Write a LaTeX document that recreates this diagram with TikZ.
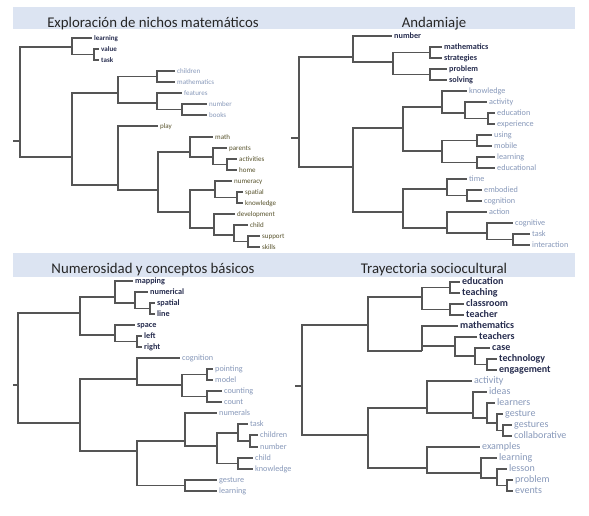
\documentclass[tikz,border=0pt]{standalone}
\usepackage{fontspec}
\setmainfont{Carlito}
\definecolor{navy}{HTML}{262C4E}
\definecolor{steel}{HTML}{8798B9}
\definecolor{olivetxt}{HTML}{56512A}
\definecolor{linegray}{HTML}{555555}
\definecolor{bandblue}{HTML}{DCE4F2}
\def\leaffont{\fontsize{8}{9}\selectfont}

\begin{document}
\begin{tikzpicture}[x=1pt,y=-1pt,
  tree/.style={draw=linegray,line width=1.2pt,to path={|- (\tikztotarget)}},
  leaf/.style={anchor=west,inner sep=2pt,text height=1.5ex,text depth=.3ex},
  dark leaf/.style={leaf,text=navy,font=\leaffont\bfseries},
  pale leaf/.style={leaf,text=steel,font=\leaffont},
  olive leaf/.style={leaf,text=olivetxt,font=\leaffont},
  title/.style={anchor=base,text=black!85,font=\fontsize{14.8}{16}\selectfont}]

  \useasboundingbox (0,0) rectangle (589,515);
  \fill[bandblue] (13,7) rectangle (575,29);
  \fill[bandblue] (13,253) rectangle (575,277);

  \node[title] (t1) at (153,27) {Exploración de nichos matemáticos};
  \node[title] (t2) at (434,27) {Andamiaje};
  \node[title] (t3) at (153,273) {Numerosidad y conceptos básicos};
  \node[title] (t4) at (434,273) {Trayectoria sociocultural};

  % Exploración de nichos matemáticos
  \begin{scope}
  \def\leaffont{\fontsize{7}{8}\selectfont}
  \coordinate (s1) at (13,141);
  \coordinate (r1) at (20,141);
  \coordinate (a1) at (72,47);
  \coordinate (vt1) at (94,54.5);
  \coordinate (b1) at (72,157);
  \coordinate (c1) at (118,93);
  \coordinate (cm1) at (157,76.5);
  \coordinate (fnb1) at (157,103);
  \coordinate (nb1) at (182,109.5);
  \coordinate (d1) at (118,185);
  \coordinate (e1) at (158,190);
  \coordinate (f1) at (190,152);
  \coordinate (pah1) at (213,157);
  \coordinate (ah1) at (227,164.5);
  \coordinate (g1) at (190,212);
  \coordinate (nsk1) at (215,190);
  \coordinate (sk1) at (237,197.5);
  \coordinate (dcss1) at (214,228);
  \coordinate (css1) at (234,235);
  \coordinate (ss1) at (248,241.5);

  \node[dark leaf]  (learning1) at (92,38) {learning};
  \node[dark leaf]  (value1) at (99,49) {value};
  \node[dark leaf]  (task1) at (99,60) {task};
  \node[pale leaf]  (children1) at (175,71) {children};
  \node[pale leaf]  (mathematics1) at (175,82) {mathematics};
  \node[pale leaf]  (features1) at (182,93) {features};
  \node[pale leaf]  (number1) at (207,104) {number};
  \node[pale leaf]  (books1) at (207,115) {books};
  \node[olive leaf] (play1) at (158,126) {play};
  \node[olive leaf] (math1) at (213,137) {math};
  \node[olive leaf] (parents1) at (227,148) {parents};
  \node[olive leaf] (activities1) at (237,159) {activities};
  \node[olive leaf] (home1) at (237,170) {home};
  \node[olive leaf] (numeracy1) at (232,181) {numeracy};
  \node[olive leaf] (spatial1) at (243,192) {spatial};
  \node[olive leaf] (knowledge1) at (243,203) {knowledge};
  \node[olive leaf] (development1) at (235,214) {development};
  \node[olive leaf] (child1) at (248,225) {child};
  \node[olive leaf] (support1) at (260,236) {support};
  \node[olive leaf] (skills1) at (260,247) {skills};

  \path[tree]
    (s1) edge (r1)
    (r1) edge (a1)  (r1) edge (b1)
    (a1) edge (learning1)  (a1) edge (vt1)
    (vt1) edge (value1)  (vt1) edge (task1)
    (b1) edge (c1)  (b1) edge (d1)
    (c1) edge (cm1)  (c1) edge (fnb1)
    (cm1) edge (children1)  (cm1) edge (mathematics1)
    (fnb1) edge (features1)  (fnb1) edge (nb1)
    (nb1) edge (number1)  (nb1) edge (books1)
    (d1) edge (play1)  (d1) edge (e1)
    (e1) edge (f1)  (e1) edge (g1)
    (f1) edge (math1)  (f1) edge (pah1)
    (pah1) edge (parents1)  (pah1) edge (ah1)
    (ah1) edge (activities1)  (ah1) edge (home1)
    (g1) edge (nsk1)  (g1) edge (dcss1)
    (nsk1) edge (numeracy1)  (nsk1) edge (sk1)
    (sk1) edge (spatial1)  (sk1) edge (knowledge1)
    (dcss1) edge (development1)  (dcss1) edge (css1)
    (css1) edge (child1)  (css1) edge (ss1)
    (ss1) edge (support1)  (ss1) edge (skills1);
  \end{scope}

  % Andamiaje
  \begin{scope}
  \def\leaffont{\fontsize{8.2}{9}\selectfont}
  \coordinate (s2) at (291,138);
  \coordinate (r2) at (299,138);
  \coordinate (a2) at (353,57);
  \coordinate (msps2) at (393,62);
  \coordinate (ms2) at (430,52.5);
  \coordinate (ps2) at (430,74.5);
  \coordinate (b2) at (353,167);
  \coordinate (c2) at (403,128);
  \coordinate (kaee2) at (442,107);
  \coordinate (aee2) at (465,113);
  \coordinate (ee2) at (488,118.5);
  \coordinate (umle2) at (442,151);
  \coordinate (um2) at (477,140.5);
  \coordinate (le2) at (477,162.5);
  \coordinate (d2) at (403,212);
  \coordinate (tec2) at (447,189);
  \coordinate (ec2) at (467,195.5);
  \coordinate (acti2) at (447,228);
  \coordinate (cti2) at (487,233);
  \coordinate (ti2) at (513,239.5);

  \node[dark leaf] (number2) at (392,36) {number};
  \node[dark leaf] (mathematics2) at (442,47) {mathematics};
  \node[dark leaf] (strategies2) at (442,58) {strategies};
  \node[dark leaf] (problem2) at (447,69) {problem};
  \node[dark leaf] (solving2) at (447,80) {solving};
  \node[pale leaf] (knowledge2) at (467,91) {knowledge};
  \node[pale leaf] (activity2) at (487,102) {activity};
  \node[pale leaf] (education2) at (495,113) {education};
  \node[pale leaf] (experience2) at (495,124) {experience};
  \node[pale leaf] (using2) at (492,135) {using};
  \node[pale leaf] (mobile2) at (492,146) {mobile};
  \node[pale leaf] (learning2) at (495,157) {learning};
  \node[pale leaf] (educational2) at (495,168) {educational};
  \node[pale leaf] (time2) at (467,179) {time};
  \node[pale leaf] (embodied2) at (482,190) {embodied};
  \node[pale leaf] (cognition2) at (482,201) {cognition};
  \node[pale leaf] (action2) at (487,212) {action};
  \node[pale leaf] (cognitive2) at (513,223) {cognitive};
  \node[pale leaf] (task2) at (530,234) {task};
  \node[pale leaf] (interaction2) at (530,245) {interaction};

  \path[tree]
    (s2) edge (r2)
    (r2) edge (a2)  (r2) edge (b2)
    (a2) edge (number2)  (a2) edge (msps2)
    (msps2) edge (ms2)  (msps2) edge (ps2)
    (ms2) edge (mathematics2)  (ms2) edge (strategies2)
    (ps2) edge (problem2)  (ps2) edge (solving2)
    (b2) edge (c2)  (b2) edge (d2)
    (c2) edge (kaee2)  (c2) edge (umle2)
    (kaee2) edge (knowledge2)  (kaee2) edge (aee2)
    (aee2) edge (activity2)  (aee2) edge (ee2)
    (ee2) edge (education2)  (ee2) edge (experience2)
    (umle2) edge (um2)  (umle2) edge (le2)
    (um2) edge (using2)  (um2) edge (mobile2)
    (le2) edge (learning2)  (le2) edge (educational2)
    (d2) edge (tec2)  (d2) edge (acti2)
    (tec2) edge (time2)  (tec2) edge (ec2)
    (ec2) edge (embodied2)  (ec2) edge (cognition2)
    (acti2) edge (action2)  (acti2) edge (cti2)
    (cti2) edge (cognitive2)  (cti2) edge (ti2)
    (ti2) edge (task2)  (ti2) edge (interaction2);
  \end{scope}

  % Numerosidad y conceptos básicos
  \begin{scope}
  \def\leaffont{\fontsize{8.2}{9}\selectfont}
  \coordinate (s3) at (13,385);
  \coordinate (r3) at (18,385);
  \coordinate (a3) at (80,313);
  \coordinate (mnsl3) at (115,297);
  \coordinate (nsl3) at (135,303);
  \coordinate (sl3) at (150,308.5);
  \coordinate (slr3) at (115,335);
  \coordinate (lr3) at (137,341.5);
  \coordinate (b3) at (80,423);
  \coordinate (c3) at (137,379);
  \coordinate (pmcc3) at (182,385);
  \coordinate (pm3) at (207,374.5);
  \coordinate (cc3) at (207,396.5);
  \coordinate (d3) at (137,451);
  \coordinate (e3) at (185,441);
  \coordinate (f3) at (217,446);
  \coordinate (tcn3) at (238,433);
  \coordinate (cn3) at (250,441);
  \coordinate (ck3) at (238,463.5);
  \coordinate (gl3) at (185,485.5);

  \node[dark leaf] (mapping3) at (133,281) {mapping};
  \node[dark leaf] (numerical3) at (148,292) {numerical};
  \node[dark leaf] (spatial3) at (155,303) {spatial};
  \node[dark leaf] (line3) at (155,314) {line};
  \node[dark leaf] (space3) at (135,325) {space};
  \node[dark leaf] (left3) at (142,336) {left};
  \node[dark leaf] (right3) at (142,347) {right};
  \node[pale leaf] (cognition3) at (180,358) {cognition};
  \node[pale leaf] (pointing3) at (213,369) {pointing};
  \node[pale leaf] (model3) at (213,380) {model};
  \node[pale leaf] (counting3) at (222,391) {counting};
  \node[pale leaf] (count3) at (222,402) {count};
  \node[pale leaf] (numerals3) at (217,413) {numerals};
  \node[pale leaf] (task3) at (248,424) {task};
  \node[pale leaf] (children3) at (258,435) {children};
  \node[pale leaf] (number3) at (258,447) {number};
  \node[pale leaf] (child3) at (253,458) {child};
  \node[pale leaf] (knowledge3) at (253,469) {knowledge};
  \node[pale leaf] (gesture3) at (217,480) {gesture};
  \node[pale leaf] (learning3) at (217,491) {learning};

  \path[tree]
    (s3) edge (r3)
    (r3) edge (a3)  (r3) edge (b3)
    (a3) edge (mnsl3)  (a3) edge (slr3)
    (mnsl3) edge (mapping3)  (mnsl3) edge (nsl3)
    (nsl3) edge (numerical3)  (nsl3) edge (sl3)
    (sl3) edge (spatial3)  (sl3) edge (line3)
    (slr3) edge (space3)  (slr3) edge (lr3)
    (lr3) edge (left3)  (lr3) edge (right3)
    (b3) edge (c3)  (b3) edge (d3)
    (c3) edge (cognition3)  (c3) edge (pmcc3)
    (pmcc3) edge (pm3)  (pmcc3) edge (cc3)
    (pm3) edge (pointing3)  (pm3) edge (model3)
    (cc3) edge (counting3)  (cc3) edge (count3)
    (d3) edge (e3)  (d3) edge (gl3)
    (e3) edge (numerals3)  (e3) edge (f3)
    (f3) edge (tcn3)  (f3) edge (ck3)
    (tcn3) edge (task3)  (tcn3) edge (cn3)
    (cn3) edge (children3)  (cn3) edge (number3)
    (ck3) edge (child3)  (ck3) edge (knowledge3)
    (gl3) edge (gesture3)  (gl3) edge (learning3);
  \end{scope}

  % Trayectoria sociocultural
  \begin{scope}
  \def\leaffont{\fontsize{10}{11}\selectfont}
  \coordinate (s4) at (295,386);
  \coordinate (r4) at (302,386);
  \coordinate (a4) at (368,325);
  \coordinate (etct4) at (422,297);
  \coordinate (et4) at (450,287.5);
  \coordinate (ct4) at (450,309.5);
  \coordinate (mtcte4) at (422,351);
  \coordinate (tcte4) at (455,346);
  \coordinate (cte4) at (475,356);
  \coordinate (te4) at (487,364.5);
  \coordinate (b4) at (368,435);
  \coordinate (c4) at (427,408);
  \coordinate (il4) at (473,413);
  \coordinate (lg4) at (487,418);
  \coordinate (gg4) at (497,423);
  \coordinate (gc4) at (503,430.5);
  \coordinate (d4) at (427,468);
  \coordinate (llpe4) at (481,473);
  \coordinate (lpe4) at (497,478);
  \coordinate (pe4) at (507,485.5);

  \node[dark leaf] (education4) at (460,282) {education};
  \node[dark leaf] (teaching4) at (460,293) {teaching};
  \node[dark leaf] (classroom4) at (464,304) {classroom};
  \node[dark leaf] (teacher4) at (464,315) {teacher};
  \node[dark leaf] (mathematics4) at (458,326) {mathematics};
  \node[dark leaf] (teachers4) at (477,337) {teachers};
  \node[dark leaf] (case4) at (490,348) {case};
  \node[dark leaf] (technology4) at (497,359) {technology};
  \node[dark leaf] (engagement4) at (497,370) {engagement};
  \node[pale leaf] (activity4) at (472,381) {activity};
  \node[pale leaf] (ideas4) at (487,392) {ideas};
  \node[pale leaf] (learners4) at (495,403) {learners};
  \node[pale leaf] (gesture4) at (503,414) {gesture};
  \node[pale leaf] (gestures4) at (512,425) {gestures};
  \node[pale leaf] (collaborative4) at (512,436) {collaborative};
  \node[pale leaf] (examples4) at (480,447) {examples};
  \node[pale leaf] (learning4) at (497,458) {learning};
  \node[pale leaf] (lesson4) at (507,469) {lesson};
  \node[pale leaf] (problem4) at (513,480) {problem};
  \node[pale leaf] (events4) at (513,491) {events};

  \path[tree]
    (s4) edge (r4)
    (r4) edge (a4)  (r4) edge (b4)
    (a4) edge (etct4)  (a4) edge (mtcte4)
    (etct4) edge (et4)  (etct4) edge (ct4)
    (et4) edge (education4)  (et4) edge (teaching4)
    (ct4) edge (classroom4)  (ct4) edge (teacher4)
    (mtcte4) edge (mathematics4)  (mtcte4) edge (tcte4)
    (tcte4) edge (teachers4)  (tcte4) edge (cte4)
    (cte4) edge (case4)  (cte4) edge (te4)
    (te4) edge (technology4)  (te4) edge (engagement4)
    (b4) edge (c4)  (b4) edge (d4)
    (c4) edge (activity4)  (c4) edge (il4)
    (il4) edge (ideas4)  (il4) edge (lg4)
    (lg4) edge (learners4)  (lg4) edge (gg4)
    (gg4) edge (gesture4)  (gg4) edge (gc4)
    (gc4) edge (gestures4)  (gc4) edge (collaborative4)
    (d4) edge (examples4)  (d4) edge (llpe4)
    (llpe4) edge (learning4)  (llpe4) edge (lpe4)
    (lpe4) edge (lesson4)  (lpe4) edge (pe4)
    (pe4) edge (problem4)  (pe4) edge (events4);
  \end{scope}
\end{tikzpicture}
\end{document}
